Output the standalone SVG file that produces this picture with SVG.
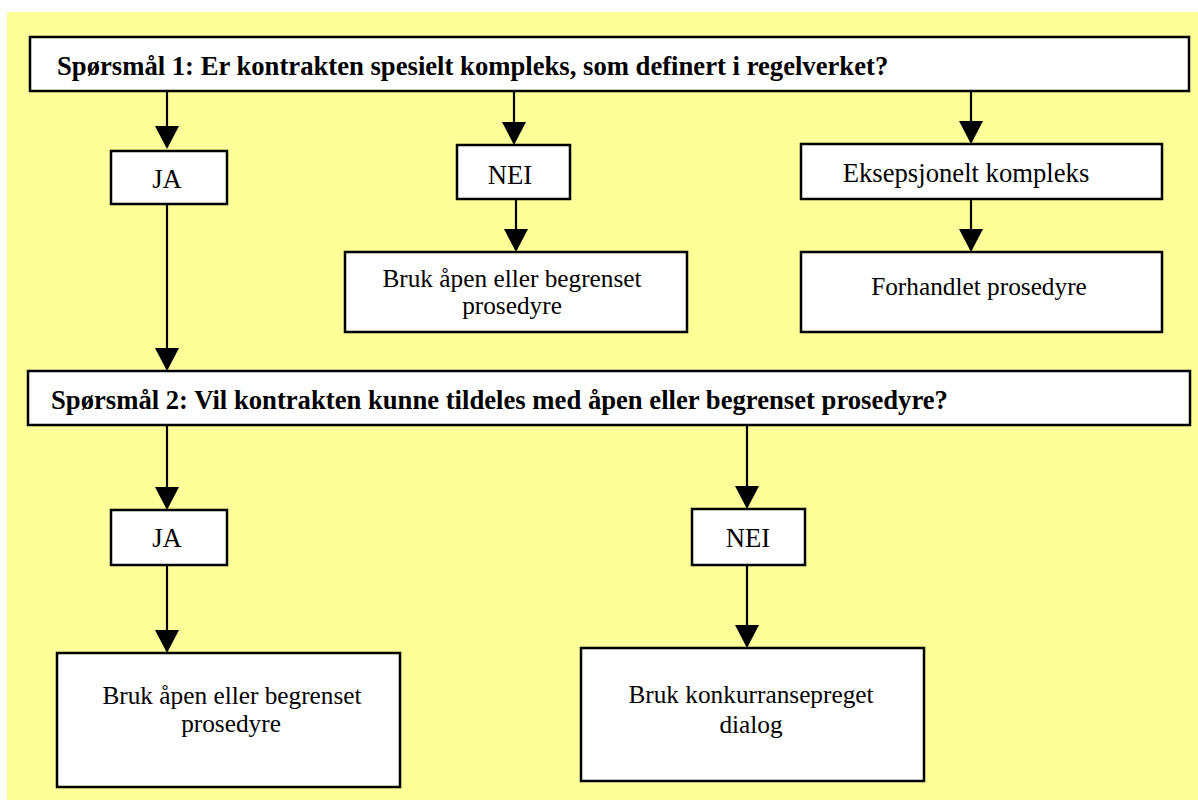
<svg xmlns="http://www.w3.org/2000/svg" width="1198" height="800" viewBox="0 0 1198 800">
<defs>
<style>
.box{fill:#ffffff;stroke:#000000;stroke-width:2.5}
.t{font-family:"Liberation Serif","Times New Roman",serif;fill:#000000}
.q{font-size:26.67px;font-weight:bold}
.s{font-size:26.67px;text-anchor:middle}
.m{font-size:25.3px;text-anchor:middle}
.c{stroke:#000000;stroke-width:2.2;fill:none;marker-end:url(#ah)}
</style>
<marker id="ah" markerUnits="userSpaceOnUse" markerWidth="24" markerHeight="24" viewBox="0 0 23 24" refX="21" refY="12" orient="auto">
<path d="M0,0 L23,12 L0,24 z" fill="#000000"/>
</marker>
</defs>
<rect x="0" y="0" width="1198" height="800" fill="#ffffff"/>
<rect x="7" y="12" width="1191" height="788" fill="#ffff99"/>
<g id="connectors">
<line class="c" x1="167" y1="92" x2="167" y2="147"/>
<line class="c" x1="514" y1="92" x2="514" y2="143"/>
<line class="c" x1="971" y1="92" x2="971" y2="142"/>
<line class="c" x1="516" y1="199" x2="516" y2="250"/>
<line class="c" x1="971" y1="199" x2="971" y2="250"/>
<line class="c" x1="167" y1="204" x2="167" y2="369"/>
<line class="c" x1="167" y1="426" x2="167" y2="508"/>
<line class="c" x1="747" y1="426" x2="747" y2="507"/>
<line class="c" x1="167" y1="565" x2="167" y2="651"/>
<line class="c" x1="747" y1="565" x2="747" y2="646"/>
</g>
<g id="q1">
<rect class="box" x="30" y="37" width="1159" height="54"/>
<text class="t q" x="57" y="75">Spørsmål 1: Er kontrakten spesielt kompleks, som definert i regelverket?</text>
</g>
<g id="ja1">
<rect class="box" x="111" y="151" width="116" height="53"/>
<text class="t s" x="167" y="188">JA</text>
</g>
<g id="nei1">
<rect class="box" x="457" y="145" width="113" height="54"/>
<text class="t s" x="510" y="184">NEI</text>
</g>
<g id="eksepsjonelt">
<rect class="box" x="801" y="144" width="361" height="55"/>
<text class="t s" x="966" y="182">Eksepsjonelt kompleks</text>
</g>
<g id="bruk1">
<rect class="box" x="345" y="252" width="342" height="80"/>
<text class="t m" x="512" y="287">Bruk åpen eller begrenset</text>
<text class="t m" x="512" y="314">prosedyre</text>
</g>
<g id="forhandlet">
<rect class="box" x="801" y="252" width="361" height="80"/>
<text class="t m" x="979" y="295">Forhandlet prosedyre</text>
</g>
<g id="q2">
<rect class="box" x="28" y="371" width="1162" height="54"/>
<text class="t q" x="51" y="409">Spørsmål 2: Vil kontrakten kunne tildeles med åpen eller begrenset prosedyre?</text>
</g>
<g id="ja2">
<rect class="box" x="111" y="510" width="116" height="55"/>
<text class="t s" x="167" y="547">JA</text>
</g>
<g id="nei2">
<rect class="box" x="692" y="509" width="113" height="56"/>
<text class="t s" x="748" y="547">NEI</text>
</g>
<g id="bruk2">
<rect class="box" x="57" y="653" width="343" height="134"/>
<text class="t m" x="232" y="704">Bruk åpen eller begrenset</text>
<text class="t m" x="231" y="732">prosedyre</text>
</g>
<g id="dialog">
<rect class="box" x="581" y="648" width="343" height="133"/>
<text class="t m" x="751" y="703">Bruk konkurransepreget</text>
<text class="t m" x="751" y="733">dialog</text>
</g>
</svg>
